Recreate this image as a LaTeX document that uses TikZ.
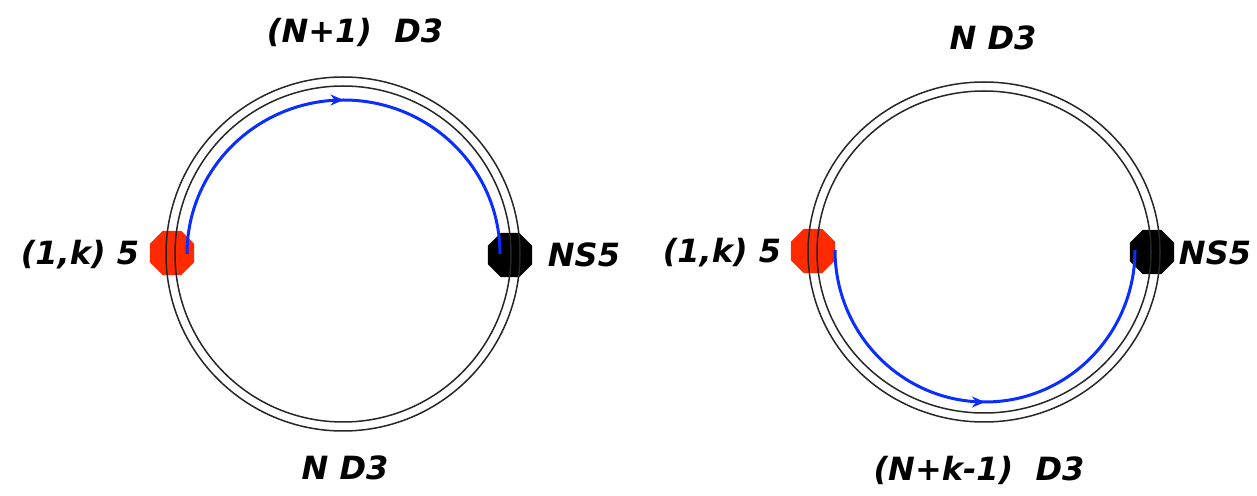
\documentclass[tikz,border=0pt]{standalone}
\usepackage{fontspec}
\newfontfamily\labfont{DejaVu Sans}
\usetikzlibrary{shapes.geometric,decorations.markings,arrows.meta}
\definecolor{octred}{HTML}{FF2A00}
\definecolor{arcblue}{HTML}{0A2EFF}
\tikzset{
  lab/.style={font=\labfont\bfseries\itshape\fontsize{32}{32}\selectfont, inner sep=0pt},
  octo/.style={regular polygon, regular polygon sides=8, minimum size=48pt, inner sep=0pt, draw=none},
  ring/.style={line width=1.5pt, black!85},
  flow/.style={line width=3pt, arcblue,
    postaction={decorate},
    decoration={markings, mark=at position 0.5 with {\arrow{Stealth[length=13pt,width=11pt]}}}}
}
\begin{document}
\begin{tikzpicture}[x=1pt,y=1pt]
\useasboundingbox (0,0) rectangle (1257,495);
% ---------- left diagram ----------
\node[octo, fill=octred] (redL) at (172,242) {};
\node[octo, fill=black] (blkL) at (510,240) {};
\coordinate (cL) at (343,241);
\draw[ring] (cL) circle[radius=177];
\draw[ring] (cL) circle[radius=168];
\draw[flow] (187,241) arc[start angle=180, end angle=0, x radius=156.5, y radius=154];
\node[lab] (topL) at (355,463) {(N+1)\ \ D3};
\node[lab] (botL) at (345,27) {N D3};
\node[lab] (k5L) at (80,240) {(1,k) 5};
\node[lab] (nsL) at (584,240) {NS5};
% ---------- right diagram ----------
\node[octo, fill=octred] (redR) at (813,244) {};
\node[octo, fill=black] (blkR) at (1152,243) {};
\coordinate (cR) at (984,243);
\draw[ring] (cR) ellipse[x radius=176, y radius=170];
\draw[ring] (cR) ellipse[x radius=167, y radius=161];
\draw[flow] (835,245) arc[start angle=180, end angle=360, x radius=150, y radius=152];
\node[lab] (topR) at (993,457) {N D3};
\node[lab] (botR) at (979,25) {(N+k-1)\ \ D3};
\node[lab] (k5R) at (722,242) {(1,k) 5};
\node[lab] (nsR) at (1215,242) {NS5};
\end{tikzpicture}
\end{document}
